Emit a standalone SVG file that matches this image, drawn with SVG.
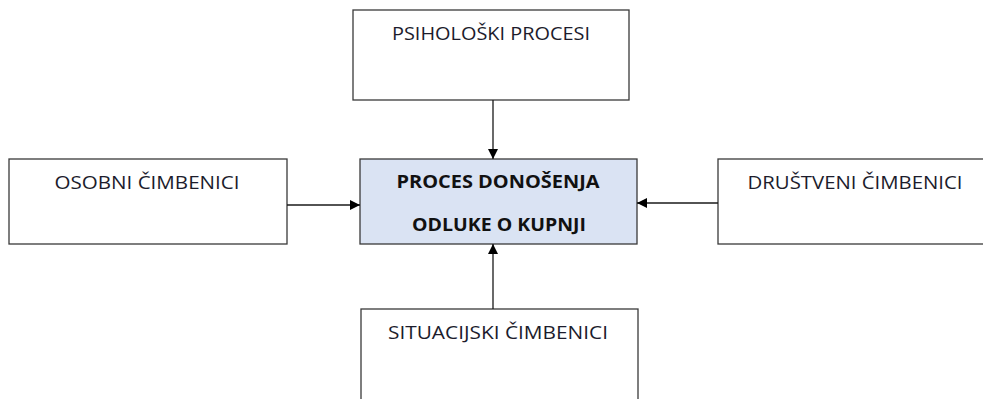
<svg xmlns="http://www.w3.org/2000/svg" width="983" height="399" viewBox="0 0 983 399">
<style>
.box{fill:#fff;stroke:#3a3a3a;stroke-width:1.3}
.main{fill:#dae3f3;stroke:#3a3a3a;stroke-width:1.3}
.t{font-family:"Open Sans","Liberation Sans",sans-serif;font-size:17.5px;fill:#1c1c2c;text-anchor:middle}
.b{font-family:"Open Sans","Liberation Sans",sans-serif;font-size:17px;font-weight:bold;fill:#111;text-anchor:middle}
.c{stroke:#1a1a1a;stroke-width:1.3;fill:none;marker-end:url(#ah)}
</style>
<defs>
<marker id="ah" viewBox="0 0 10 10" refX="10" refY="5" markerWidth="10" markerHeight="10" markerUnits="userSpaceOnUse" orient="auto">
<path d="M0,0 L10,5 L0,10 z" fill="#000"/>
</marker>
</defs>
<rect width="983" height="399" fill="#fff"/>
<g id="psiholoski">
<rect class="box" x="353" y="10" width="276" height="90"/>
<text class="t" x="491" y="40" textLength="198" lengthAdjust="spacingAndGlyphs">PSIHOLOŠKI PROCESI</text>
</g>
<g id="osobni">
<rect class="box" x="9" y="159" width="278" height="85"/>
<text class="t" x="147" y="189" textLength="185" lengthAdjust="spacingAndGlyphs">OSOBNI ČIMBENICI</text>
</g>
<g id="proces">
<rect class="main" x="360" y="159" width="277" height="85"/>
<text class="b" x="498" y="188" textLength="203" lengthAdjust="spacingAndGlyphs">PROCES DONOŠENJA</text>
<text class="b" x="499" y="231" textLength="174" lengthAdjust="spacingAndGlyphs">ODLUKE O KUPNJI</text>
</g>
<g id="drustveni">
<rect class="box" x="718" y="159" width="275" height="85"/>
<text class="t" x="855" y="189" textLength="215" lengthAdjust="spacingAndGlyphs">DRUŠTVENI ČIMBENICI</text>
</g>
<g id="situacijski">
<rect class="box" x="361" y="309" width="277" height="100"/>
<text class="t" x="498" y="339" textLength="220" lengthAdjust="spacingAndGlyphs">SITUACIJSKI ČIMBENICI</text>
</g>
<g id="connectors">
<line class="c" x1="493" y1="100" x2="493" y2="159"/>
<line class="c" x1="287" y1="205" x2="360" y2="205"/>
<line class="c" x1="718" y1="203" x2="637" y2="203"/>
<line class="c" x1="493" y1="309" x2="493" y2="244"/>
</g>
</svg>
